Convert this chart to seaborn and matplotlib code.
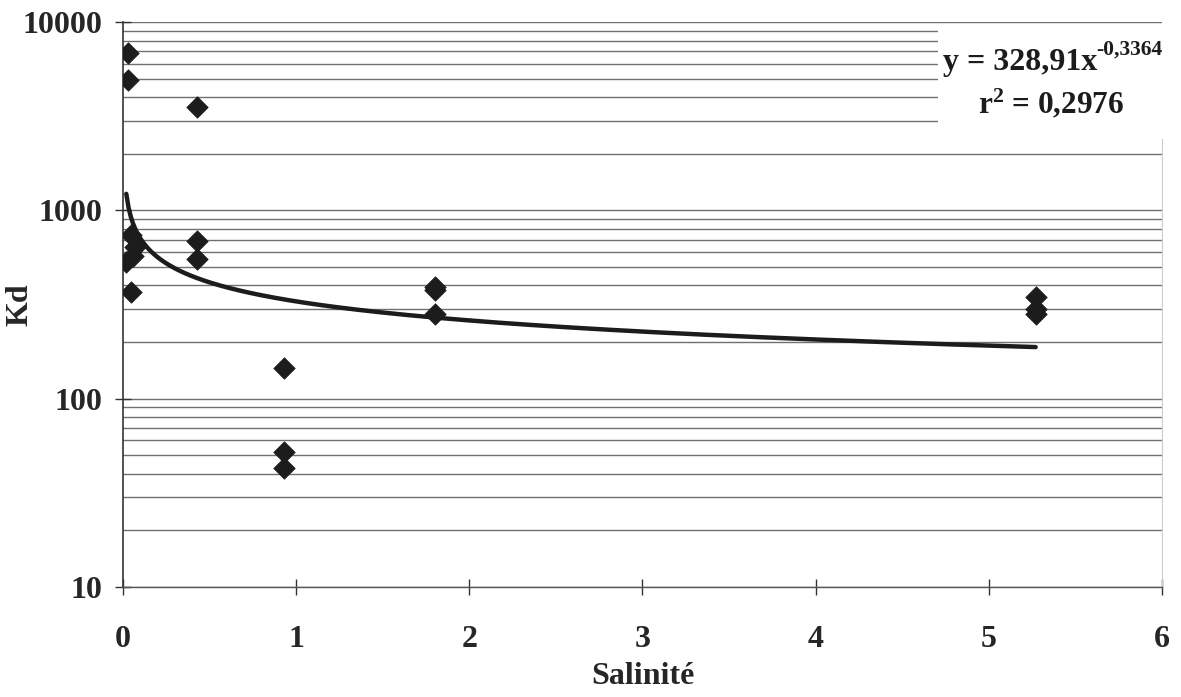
import numpy as np
import pandas as pd
import matplotlib
matplotlib.use("Agg")
import matplotlib.pyplot as plt
import seaborn as sns
from matplotlib.ticker import LogLocator, FixedLocator, NullFormatter

# Data
salinite = [0.03, 0.03, 0.43, 0.05, 0.07, 0.06, 0.02, 0.05, 0.43, 0.43,
            0.93, 0.93, 0.93, 1.80, 1.80, 1.80, 5.27, 5.27, 5.27]
kd = [6850, 4950, 3550, 740, 640, 570, 530, 370, 690, 555,
      146, 52, 43, 390, 380, 283, 345, 300, 283]

# Fitted power trend shown on chart: y = a * x^b
coef_a = 328.91
coef_b = -0.3364
trend_xmin, trend_xmax = 0.02, 5.27

y_ticks = [10, 100, 1000, 10000]
y_tick_labels = ["10", "100", "1000", "10000"]
x_ticks = [0, 1, 2, 3, 4, 5, 6]

df = pd.DataFrame({"Salinité": salinite, "Kd": kd})
xt = np.linspace(trend_xmin, trend_xmax, 400)
trend = pd.DataFrame({"Salinité": xt, "Kd": coef_a * xt ** coef_b})

sns.set_theme(style="white")
plt.rcParams['font.family'] = ['Liberation Serif', 'DejaVu Serif']
plt.rcParams['font.weight'] = 'bold'
plt.rcParams['mathtext.fontset'] = 'custom'
plt.rcParams['mathtext.rm'] = 'Liberation Serif:bold'
plt.rcParams['mathtext.bf'] = 'Liberation Serif:bold'
plt.rcParams['mathtext.it'] = 'Liberation Serif:bold'
plt.rcParams['mathtext.default'] = 'rm'

fig = plt.figure(figsize=(11.81, 6.97), dpi=100)
ax = fig.add_axes([0.104, 0.158, 0.880, 0.810])
ax.set_yscale("log")
ax.set_xlim(0, 6)
ax.set_ylim(10, 10000)

# gridlines (major + minor) on log axis
ax.yaxis.set_major_locator(FixedLocator(y_ticks))
ax.yaxis.set_minor_locator(LogLocator(base=10, subs=range(2, 10)))
ax.yaxis.set_minor_formatter(NullFormatter())
ax.grid(True, which="major", axis="y", color="#707070", lw=1.0)
ax.grid(True, which="minor", axis="y", color="#707070", lw=1.0)
ax.set_axisbelow(True)

sns.lineplot(data=trend, x="Salinité", y="Kd", ax=ax, color="#1c1c1c", lw=3.2, zorder=3)
sns.scatterplot(data=df, x="Salinité", y="Kd", ax=ax, marker="D", s=120,
                color="#1c1c1c", edgecolor="#1c1c1c", linewidth=0.5, zorder=4)

ax.set_yticks(y_ticks)
ax.set_yticklabels(y_tick_labels)
ax.set_xticks(x_ticks)
ax.tick_params(axis="both", which="major", labelsize=23, length=11, width=1,
               color="#333333", direction="inout", bottom=True, left=True)
ax.tick_params(axis="y", which="minor", length=0)
ax.tick_params(axis="x", pad=22)
ax.tick_params(axis="y", pad=9)
for lbl in ax.get_xticklabels() + ax.get_yticklabels():
    lbl.set_fontweight("bold")

ax.set_xlabel("Salinité", fontsize=23, fontweight="bold")
ax.set_ylabel("Kd", fontsize=23, fontweight="bold")
ax.xaxis.set_label_coords(0.5, -0.133)
ax.yaxis.set_label_coords(-0.085, 0.5)

ax.spines["top"].set_visible(False)
ax.spines["right"].set_color("#cccccc")
ax.spines["right"].set_linewidth(0.8)
ax.spines["right"].set_bounds(10, 2400)
ax.spines["left"].set_color("#333333")
ax.spines["bottom"].set_color("#555555")
ax.spines["left"].set_linewidth(1.2)
ax.spines["bottom"].set_linewidth(1.0)

# white box that hides the gridlines behind the equation
ax.axvspan(4.705, 6.0, ymin=0.80, ymax=0.995, facecolor="white",
           edgecolor="none", zorder=1.5)
fig.text(1097 / 1181, 1 - 70 / 697, "y = 328,91x",
         ha="right", va="baseline", fontsize=23, fontweight="bold",
         color="#1c1c1c", zorder=5)
fig.text(1096 / 1181, 1 - 55 / 697, "-0,3364",
         ha="left", va="baseline", fontsize=15.5, fontweight="bold",
         color="#1c1c1c", zorder=5)
fig.text(1051 / 1181, 1 - 113 / 697, "r$^{2}$ = 0,2976",
         ha="center", va="baseline", fontsize=22.5, fontweight="bold",
         color="#1c1c1c", zorder=5)

fig.savefig("out.png", dpi=100)
